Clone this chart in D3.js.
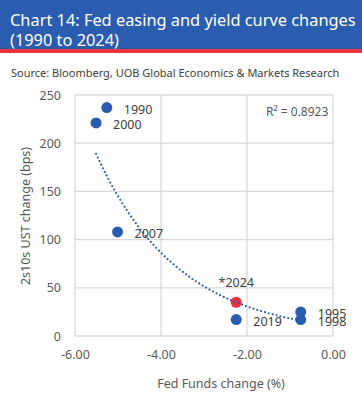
<!DOCTYPE html>
<html>
<head>
<meta charset="utf-8">
<script src="https://cdn.jsdelivr.net/npm/d3@7"></script>
<style>
  body { margin: 0; background: #fff; }
  svg { display: block; font-family: "Noto Sans", sans-serif; }
</style>
</head>
<body>
<svg width="362" height="396"></svg>
<script>
// data
const years = ["1990", "2000", "2007", "*2024", "2019", "1995", "1998"];
const fedChange = [-5.26, -5.51, -5.01, -2.25, -2.25, -0.75, -0.75];
const curveChange = [237, 221, 108, 35, 17, 25, 17];
const xTicks = [-6, -4, -2, 0];
const yTicks = [0, 50, 100, 150, 200, 250];
const rSquaredLabel = "R\u00b2 = 0.8923";

const blue = "#2a5db0", red = "#e8323c", grey = "#595959";

var svg = d3.select("svg"),
    width = +svg.attr("width"),
    height = +svg.attr("height");

// header band
svg.append("rect").attr("x", 0).attr("y", 0).attr("width", width).attr("height", 49).attr("fill", blue);
svg.append("rect").attr("x", 0).attr("y", 49).attr("width", width).attr("height", 4).attr("fill", red);
var t1 = svg.append("text").attr("x", 10).attr("y", 26).attr("fill", "#fff").attr("font-size", 17)
    .text("Chart 14: Fed easing and yield curve changes");
var t2 = svg.append("text").attr("x", 10).attr("y", 46).attr("fill", "#fff").attr("font-size", 17)
    .text("(1990 to 2024)");
// shrink title so the first line ends near the right edge, like the original
var tw = t1.node().getComputedTextLength();
if (tw > 346) {
    var fs = 17 * 346 / tw;
    t1.attr("font-size", fs);
    t2.attr("font-size", fs);
}
svg.append("text").attr("x", 11).attr("y", 77).attr("fill", "#404040").attr("font-size", 11)
    .text("Source: Bloomberg, UOB Global Economics & Markets Research");

var x = d3.scaleLinear().domain([-6, 0]).range([75, 333]);
var y = d3.scaleLinear().domain([0, 250]).range([336, 95]);

// gridlines
var grid = svg.append("g").attr("stroke", "#d9d9d9").attr("stroke-width", 1.3);
grid.selectAll(".hg").data(yTicks).enter().append("line")
    .attr("x1", x(-6)).attr("x2", x(0))
    .attr("y1", d => y(d)).attr("y2", d => y(d));
grid.selectAll(".vg").data(xTicks).enter().append("line")
    .attr("y1", y(0)).attr("y2", y(250))
    .attr("x1", d => x(d)).attr("x2", d => x(d));

// axes (labels only)
var yAxis = svg.append("g").attr("transform", `translate(${x(-6)},0)`)
    .call(d3.axisLeft(y).tickValues(yTicks).tickSize(0).tickPadding(14));
var xAxis = svg.append("g").attr("transform", `translate(0,${y(0)})`)
    .call(d3.axisBottom(x).tickValues(xTicks).tickSize(0).tickPadding(14)
        .tickFormat(d => d.toFixed(2)));
[yAxis, xAxis].forEach(a => {
    a.select(".domain").remove();
    a.selectAll("text").attr("fill", grey).attr("font-size", 12.5).attr("font-family", "Noto Sans, sans-serif");
});

// axis titles
svg.append("text").attr("x", 221).attr("y", 388).attr("text-anchor", "middle")
    .attr("fill", grey).attr("font-size", 12.5).text("Fed Funds change (%)");
svg.append("text").attr("transform", "translate(30,216) rotate(-90)").attr("text-anchor", "middle")
    .attr("fill", grey).attr("font-size", 12.5).text("2s10s UST change (bps)");

// exponential trendline, least squares on ln(y)
const lny = curveChange.map(v => Math.log(v));
const mx = d3.mean(fedChange), my = d3.mean(lny);
const b = d3.sum(fedChange, (v, i) => (v - mx) * (lny[i] - my)) / d3.sum(fedChange, v => (v - mx) * (v - mx));
const a = Math.exp(my - b * mx);
const xr = d3.extent(fedChange);
const trendPts = d3.range(0, 101).map(i => xr[0] + (xr[1] - xr[0]) * i / 100);

var points = fedChange.map((v, i) => ({ year: years[i], fx: v, cy: curveChange[i] }));

svg.selectAll(".dot").data(points).enter().append("circle")
    .attr("cx", d => x(d.fx)).attr("cy", d => y(d.cy)).attr("r", 5.5)
    .attr("fill", d => d.year === "*2024" ? red : blue);

svg.append("path").datum(trendPts)
    .attr("d", d3.line().x(d => x(d)).y(d => y(a * Math.exp(b * d))))
    .attr("fill", "none").attr("stroke", blue).attr("stroke-width", 2.2)
    .attr("stroke-linecap", "round").attr("stroke-dasharray", "0,4");

// point labels
svg.selectAll(".lbl").data(points).enter().append("text")
    .attr("x", d => d.year === "*2024" ? x(d.fx) : x(d.fx) + 17)
    .attr("y", d => d.year === "*2024" ? y(d.cy) - 15 : y(d.cy) + 6)
    .attr("text-anchor", d => d.year === "*2024" ? "middle" : "start")
    .attr("fill", "#404040").attr("font-size", 12.5)
    .text(d => d.year);

svg.append("text").attr("x", 266).attr("y", 116).attr("fill", grey).attr("font-size", 12)
    .text(rSquaredLabel);
</script>
</body>
</html>
